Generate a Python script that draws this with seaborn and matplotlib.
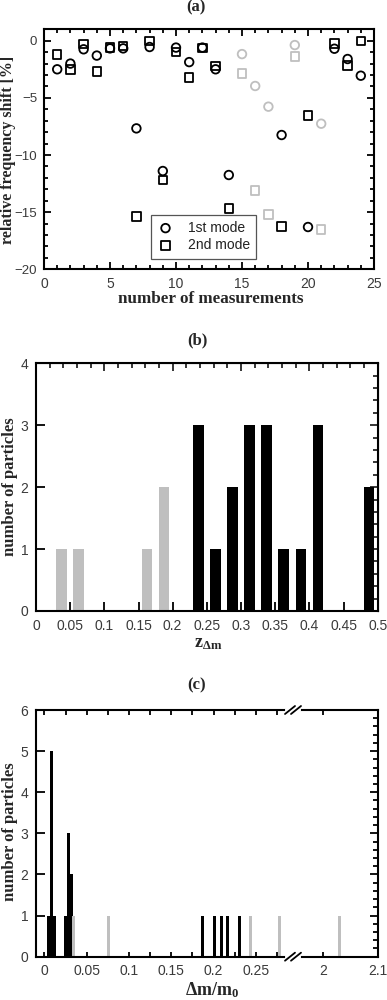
import numpy as np
import pandas as pd
import matplotlib
matplotlib.use('Agg')
import matplotlib.pyplot as plt
from matplotlib.ticker import MultipleLocator, FixedLocator, FormatStrFormatter
import seaborn as sns

sns.set_style('ticks')
plt.rcParams['font.family'] = ['Liberation Sans', 'DejaVu Sans']
plt.rcParams['mathtext.fontset'] = 'custom'
plt.rcParams['mathtext.rm'] = 'Liberation Serif'
plt.rcParams['mathtext.bf'] = 'Liberation Serif:bold'
plt.rcParams['mathtext.it'] = 'Liberation Serif:italic'

# (a) relative frequency shift per measurement
measurement = list(range(1, 25))
mode1 = [-2.5, -2.0, -0.75, -1.3, -0.67, -0.67, -7.67, -0.55, -11.4, -0.6, -1.87, -0.6,
         -2.5, -11.75, -1.17, -3.96, -5.77, -8.25, -0.38, -16.3, -7.26, -0.7, -1.6, -3.06]
mode2 = [-1.2, -2.5, -0.3, -2.7, -0.6, -0.47, -15.4, -0.03, -12.2, -1.0, -3.2, -0.64,
         -2.2, -14.7, -2.86, -13.1, -15.2, -16.24, -1.37, -6.56, -16.5, -0.23, -2.19, -0.03]
excluded = [15, 16, 17, 19, 21]

# (b) histogram of z_dm
z_centers = [0.0375, 0.0625, 0.1625, 0.1875, 0.2375, 0.2625, 0.2875, 0.3125,
             0.3375, 0.3625, 0.3875, 0.4125, 0.4875]
z_counts = [1, 1, 1, 2, 3, 1, 2, 3, 3, 1, 1, 3, 2]
z_gray = [True, True, True, True, False, False, False, False, False, False, False, False, False]

# (c) histogram of dm/m0
dm_black = [0.0048, 0.0082, 0.0116, 0.0255, 0.0284, 0.0319, 0.1865, 0.2015, 0.2095, 0.216, 0.231]
dm_black_n = [1, 5, 1, 1, 3, 2, 1, 1, 1, 1, 1]
dm_gray = [0.0346, 0.076, 0.2435, 0.2785, 2.03]
dm_gray_n = [1, 1, 1, 1, 1]

GRAY = '#bfbfbf'
TICKC = '#3a3a3a'
serif = dict(family='Liberation Serif', weight='bold')

df = pd.DataFrame({'n': measurement, 'mode1': mode1, 'mode2': mode2})
df['excl'] = df['n'].isin(excluded)

fig = plt.figure(figsize=(3.87, 10), dpi=100)

def px(l, t, r, b):
    return [l / 387, 1 - b / 1000, (r - l) / 387, (b - t) / 1000]

def ftext(x, y, s, **kw):
    fig.text(x / 387, 1 - y / 1000, s, ha='center', va='center', **kw)

def style(ax):
    for s in ax.spines.values():
        s.set_linewidth(1.5)
        s.set_color('black')
    ax.tick_params(which='both', direction='in', width=1.3, colors='black',
                   labelcolor=TICKC, labelsize=10, pad=5.5)
    ax.set_xlabel('')
    ax.set_ylabel('')

# ---------- (a)
ax1 = fig.add_axes(px(44, 29.3, 374, 269.3))
main = df[~df['excl']]
ex = df[df['excl']]
sns.scatterplot(data=main, x='n', y='mode1', marker='o', s=38, facecolor='none',
                edgecolor='black', linewidth=1.3, ax=ax1, label='1st mode', zorder=3)
sns.scatterplot(data=main, x='n', y='mode2', marker='s', s=38, facecolor='none',
                edgecolor='black', linewidth=1.3, ax=ax1, label='2nd mode', zorder=3)
sns.scatterplot(data=ex, x='n', y='mode1', marker='o', s=38, facecolor='none',
                edgecolor=GRAY, linewidth=1.3, ax=ax1, zorder=3)
sns.scatterplot(data=ex, x='n', y='mode2', marker='s', s=38, facecolor='none',
                edgecolor=GRAY, linewidth=1.3, ax=ax1, zorder=3)
ax1.set_xlim(0, 25)
ax1.set_ylim(-20, 1)
style(ax1)
ax1.xaxis.set_major_locator(MultipleLocator(5))
ax1.xaxis.set_minor_locator(MultipleLocator(1))
ax1.yaxis.set_major_locator(MultipleLocator(5))
ax1.yaxis.set_minor_locator(MultipleLocator(1))
ax1.tick_params(which='both', top=True, right=True)
ax1.tick_params(which='major', length=5)
ax1.tick_params(which='minor', length=2.8)
ax1.tick_params(axis='y', labelsize=9.5, pad=5)
leg = ax1.legend(loc='lower left', bbox_to_anchor=(0.324, 0.045), borderaxespad=0,
                 fontsize=10, frameon=True, fancybox=False, framealpha=1,
                 handlelength=1.2, handletextpad=1.0, borderpad=0.45, labelspacing=0.25)
leg.get_frame().set_edgecolor('#555555')
leg.get_frame().set_linewidth(0.9)
for t in leg.get_texts():
    t.set_color('#222222')
ftext(196, 7, '(a)', fontsize=12, **serif)
ftext(211, 299, 'number of measurements', fontsize=12.3, **serif)
ftext(8, 150, 'relative frequency shift [%]', rotation=90, fontsize=11.5, **serif)

# ---------- (b)
ax2 = fig.add_axes(px(36, 363.3, 377.7, 611))
zdf = pd.DataFrame({'z': z_centers, 'count': z_counts, 'gray': z_gray})
sns.histplot(data=zdf[zdf['gray']], x='z', weights='count', binwidth=0.025,
             binrange=(0.025, 0.5), shrink=0.62, color=GRAY, alpha=1, linewidth=0, ax=ax2)
sns.histplot(data=zdf[~zdf['gray']], x='z', weights='count', binwidth=0.025,
             binrange=(0.025, 0.5), shrink=0.62, color='black', alpha=1, linewidth=0, ax=ax2)
ax2.set_xlim(0, 0.5)
ax2.set_ylim(0, 4)
style(ax2)
ax2.xaxis.set_major_locator(MultipleLocator(0.05))
ax2.xaxis.set_major_formatter(FormatStrFormatter('%g'))
ax2.yaxis.set_major_locator(MultipleLocator(1))
ax2.tick_params(which='major', length=6.5)
top2 = ax2.secondary_xaxis('top')
top2.xaxis.set_major_locator(MultipleLocator(0.1))
top2.xaxis.set_minor_locator(MultipleLocator(0.02))
top2.tick_params(which='both', direction='in', labeltop=False, width=1.3)
top2.tick_params(which='major', length=6)
top2.tick_params(which='minor', length=3.6)
right2 = ax2.secondary_yaxis('right')
right2.yaxis.set_major_locator(MultipleLocator(1))
right2.yaxis.set_minor_locator(MultipleLocator(0.2))
right2.tick_params(which='both', direction='in', labelright=False, width=1.3)
right2.tick_params(which='major', length=6)
right2.tick_params(which='minor', length=3.6)
ftext(197, 340, '(b)', fontsize=12, **serif)
ftext(208, 644, r'$\mathbf{z_{\Delta m}}$', fontsize=13)
ftext(10, 487, 'number of particles', rotation=90, fontsize=12, **serif)

# ---------- (c) broken x axis
axL = fig.add_axes(px(36, 710, 293, 956.7))
axR = fig.add_axes(px(293, 710, 377.7, 956.7))
for ax, w in ((axL, 0.0036), (axR, 0.006)):
    ax.bar(dm_black, dm_black_n, width=w, color='black', linewidth=0)
    ax.bar(dm_gray, dm_gray_n, width=w, color=GRAY, linewidth=0)
    ax.set_ylim(0, 6)
    style(ax)
axL.set_xlim(-0.01, 0.294)
axR.set_xlim(1.944, 2.1)
axL.spines['right'].set_visible(False)
axR.spines['left'].set_visible(False)
axL.xaxis.set_major_locator(MultipleLocator(0.05))
axL.xaxis.set_minor_locator(MultipleLocator(0.025))
axL.xaxis.set_major_formatter(FormatStrFormatter('%g'))
axL.tick_params(which='both', axis='x', top=True, length=3.6)
axL.yaxis.set_major_locator(MultipleLocator(1))
axL.tick_params(axis='y', which='major', length=6.5)
axR.xaxis.set_major_locator(FixedLocator([2.0, 2.1]))
axR.xaxis.set_major_formatter(FormatStrFormatter('%g'))
axR.tick_params(axis='x', top=True, length=3.6)
axR.tick_params(axis='y', left=False, labelleft=False, right=True)
axR.yaxis.set_major_locator(MultipleLocator(1))
axR.yaxis.set_minor_locator(MultipleLocator(0.2))
axR.tick_params(axis='y', which='major', length=6)
axR.tick_params(axis='y', which='minor', length=3.6, right=True, left=False)
ftext(197, 685, '(c)', fontsize=12, **serif)
ftext(212, 990, r'$\mathbf{\Delta m/m_0}$', fontsize=13)
ftext(10, 832, 'number of particles', rotation=90, fontsize=12, **serif)

# break marks
sx, sy = 1 / 84.7, 1 / 246.7
for yb in (0, 1):
    axR.plot([-6 * sx, 6 * sx], [yb, yb], color='white', lw=3, transform=axR.transAxes,
             clip_on=False, zorder=5)
    for dx in (-3, 3):
        axR.plot([(dx - 5) * sx, (dx + 5) * sx], [yb - 4 * sy, yb + 4 * sy], color='black',
                 lw=1.3, transform=axR.transAxes, clip_on=False, zorder=6)

fig.savefig('out.png', dpi=100)
